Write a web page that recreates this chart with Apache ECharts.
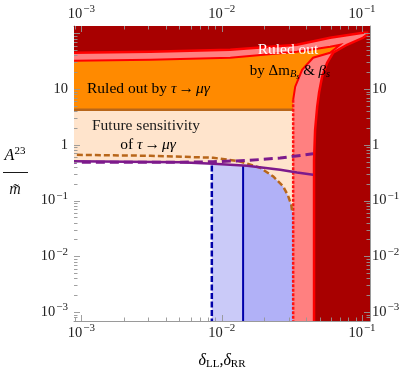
<!DOCTYPE html>
<html><head><meta charset="utf-8">
<script src="https://cdn.jsdelivr.net/npm/echarts@6/dist/echarts.min.js"></script>
<style>html,body{margin:0;padding:0;background:#fff}#c{width:407px;height:373px}</style>
</head><body><div id="c"></div>
<script>
// ---------- data ----------
const xRange = [8.85e-4, 0.114];
const yRange = [6.9e-4, 135];
const xTicks = [1e-3, 1e-2, 1e-1];
const yTicks = [1e-3, 1e-2, 1e-1, 1, 10];

// ΔmBs & βs exclusion: outer edge (dark red beyond) and inner edge (pink band between)
const outerEdgeX = [8e-4, 0.0031, 0.0115, 0.0344, 0.0592, 0.1016, 0.1087, 0.1087, 0.1016, 0.0782, 0.0622, 0.0564, 0.0519, 0.0494, 0.0479, 0.0463, 0.0455, 0.0455];
const outerEdgeY = [44.7, 46.5, 50.5, 62.2, 83.0, 102, 102, 94, 83.0, 62.2, 44.7, 29.6, 16.6, 8.57, 4.8, 1.86, 0.538, 6e-4];
const innerEdgeX = [8e-4, 0.0031, 0.0115, 0.0344, 0.0592, 0.0697, 0.0592, 0.0448, 0.0374, 0.0334, 0.0323, 0.0323];
const innerEdgeY = [32.1, 33.5, 36.4, 46.6, 57.3, 62.2, 44.7, 36.4, 22.1, 11.0, 6.41, 6e-4];
// tau -> mu gamma current bound
const tauLimit = 4.25;
// future sensitivity (brown dashed)
const futureX = [8e-4, 0.0031, 0.0087, 0.01355, 0.0188, 0.0233, 0.0274, 0.0297, 0.0313, 0.0318];
const futureY = [0.662, 0.635, 0.585, 0.502, 0.387, 0.270, 0.179, 0.122, 0.084, 0.063];
// purple curves
const purpleSolidX = [8e-4, 0.00507, 0.0087, 0.0152, 0.0261, 0.0344, 0.0448];
const purpleSolidY = [0.509, 0.486, 0.456, 0.420, 0.356, 0.318, 0.29];
const purpleDashX = [8e-4, 0.00507, 0.0087, 0.0152, 0.0261, 0.0448];
const purpleDashY = [0.486, 0.486, 0.496, 0.523, 0.577, 0.69];
// blue vertical bounds
const blueDashX = 0.0085;
const blueSolidX = 0.0142;

// ---------- helpers ----------
const L = Math.log10;
function zip(xs, ys) { return xs.map((x, i) => [x, ys[i]]); }
function interpLog(xs, ys, x) {
  const lx = L(x);
  if (lx <= L(xs[0])) return ys[0];
  for (let i = 0; i < xs.length - 1; i++) {
    const a = L(xs[i]), b = L(xs[i + 1]);
    if (lx >= a && lx <= b) {
      const t = (lx - a) / (b - a);
      return Math.pow(10, L(ys[i]) + t * (L(ys[i + 1]) - L(ys[i])));
    }
  }
  return ys[ys.length - 1];
}
function envelope(x0, x1) {
  const xs = [x0, x1].concat(futureX, purpleSolidX).filter(x => x >= x0 && x <= x1).sort((a, b) => a - b);
  return xs.map(x => [x, Math.min(interpLog(futureX, futureY, x), interpLog(purpleSolidX, purpleSolidY, x))]);
}
const yLow = 6e-4, xLow = 8e-4;
const innerVX = innerEdgeX[innerEdgeX.length - 1];
const innerCurve = zip(innerEdgeX, innerEdgeY).slice(0, innerEdgeX.length - 1);
const innerVertical = zip(innerEdgeX, innerEdgeY).slice(innerEdgeX.length - 2);

function polySeries(ptsFn, style, z) {
  return {
    type: 'custom', coordinateSystem: 'cartesian2d', clip: true, silent: true, z: z,
    data: [[xRange[0], yRange[0]]],
    renderItem: (params, api) => ({
      type: 'polygon',
      shape: { points: ptsFn().map(p => api.coord(p)) },
      style: style
    })
  };
}
function lineSeries(ptsFn, style, z) {
  return {
    type: 'custom', coordinateSystem: 'cartesian2d', clip: true, silent: true, z: z,
    data: [[xRange[0], yRange[0]]],
    renderItem: (params, api) => ({
      type: 'polyline',
      shape: { points: ptsFn().map(p => api.coord(p)) },
      style: Object.assign({ fill: null }, style)
    })
  };
}

const series = [
  polySeries(() => [[xRange[0], yRange[0]], [xRange[1], yRange[0]], [xRange[1], yRange[1]], [xRange[0], yRange[1]]], { fill: '#a80000' }, 2),
  polySeries(() => zip(outerEdgeX, outerEdgeY).concat([[xLow, yLow]]), { fill: '#ff8080' }, 3),
  polySeries(() => zip(innerEdgeX, innerEdgeY).concat([[xLow, yLow]]), { fill: '#ff8a00' }, 4),
  polySeries(() => [[xLow, tauLimit], [innerVX, tauLimit], [innerVX, yLow], [xLow, yLow]], { fill: '#ffe4cc' }, 5),
  polySeries(() => envelope(xLow, blueDashX).concat([[blueDashX, yLow], [xLow, yLow]]), { fill: '#ffffff' }, 6),
  polySeries(() => envelope(blueDashX, blueSolidX).concat([[blueSolidX, yLow], [blueDashX, yLow]]), { fill: '#cacaf8' }, 6),
  polySeries(() => envelope(blueSolidX, futureX[futureX.length - 1]).concat([[innerVX, futureY[futureY.length - 1]], [innerVX, yLow], [blueSolidX, yLow]]), { fill: '#b1b1f7' }, 6),
  lineSeries(() => [[xLow, tauLimit], [innerVX, tauLimit]], { stroke: '#b8661a', lineWidth: 2.5 }, 7),
  lineSeries(() => zip(outerEdgeX, outerEdgeY), { stroke: '#ff0000', lineWidth: 2.5 }, 8),
  lineSeries(() => innerCurve, { stroke: '#ff0000', lineWidth: 2 }, 8),
  lineSeries(() => innerVertical, { stroke: '#ff1010', lineWidth: 2.5, lineDash: [3, 1.5] }, 8),
  lineSeries(() => [[blueDashX, yLow], [blueDashX, interpLog(purpleSolidX, purpleSolidY, blueDashX)]], { stroke: '#0000aa', lineWidth: 2.5, lineDash: [6, 2.5] }, 9),
  lineSeries(() => [[blueSolidX, yLow], [blueSolidX, interpLog(purpleSolidX, purpleSolidY, blueSolidX)]], { stroke: '#0000aa', lineWidth: 2 }, 9),
  lineSeries(() => zip(futureX, futureY), { stroke: '#b8661a', lineWidth: 2.5, lineDash: [6, 3] }, 10),
  lineSeries(() => zip(purpleSolidX, purpleSolidY), { stroke: '#7d1a8c', lineWidth: 2.5 }, 11),
  lineSeries(() => zip(purpleDashX, purpleDashY), { stroke: '#7d1a8c', lineWidth: 3, lineDash: [9, 5] }, 11),
  {
    type: 'custom', coordinateSystem: 'cartesian2d', clip: false, silent: true, z: 20,
    data: [[xRange[0], yRange[0]]],
    renderItem: (params, api) => {
      const cs = params.coordSys;
      const ch = [];
      const st = { stroke: 'rgba(150,150,150,0.9)', lineWidth: 1 };
      const ln = (x1, y1, x2, y2) => ch.push({ type: 'line', shape: { x1, y1, x2, y2 }, style: st });
      for (let n = -4; n <= 2; n++) for (let k = 1; k <= 9; k++) {
        const v = k * Math.pow(10, n);
        const len = k === 1 ? 6 : 3.5;
        if (v > xRange[0] && v < xRange[1]) {
          const px = Math.round(api.coord([v, yRange[0]])[0]) + 0.5;
          ln(px, cs.y + cs.height, px, cs.y + cs.height - len);
          ln(px, cs.y, px, cs.y + len);
        }
        if (v > yRange[0] && v < yRange[1]) {
          const py = Math.round(api.coord([xRange[0], v])[1]) + 0.5;
          ln(cs.x, py, cs.x + len, py);
          ln(cs.x + cs.width, py, cs.x + cs.width - len, py);
        }
      }
      return { type: 'group', children: ch };
    }
  }
];

const serif = '"Liberation Serif", "DejaVu Serif", serif';
const rich = {
  b: { fontFamily: serif, fontSize: 14.5, lineHeight: 16, color: '#222' },
  s: { fontFamily: serif, fontSize: 11, lineHeight: 12, padding: [0, 0, 9, 1], color: '#222' }
};
function fmt(ticks) {
  return function (v) {
    const t = ticks.find(t => Math.abs(L(t) - L(v)) < 1e-6);
    if (t === undefined) return '';
    const e = Math.round(L(t));
    if (e === 0) return '{b|1}';
    if (e === 1) return '{b|10}';
    return '{b|10}{s|\u2212' + (-e) + '}';
  };
}
function logAxis(pos, range, ticks, margin) {
  return {
    type: 'log', logBase: 10, min: range[0], max: range[1], position: pos,
    axisLine: { show: true, lineStyle: { color: '#9a9a9a', width: 1 } },
    axisTick: { show: false }, splitLine: { show: false }, minorTick: { show: false },
    axisLabel: { formatter: fmt(ticks), rich: rich, margin: margin, showMinLabel: true, showMaxLabel: true }
  };
}
const txt = '#1a1a1a';
const tauRich = (fs) => ({
  n: { fontFamily: serif, fontSize: fs, lineHeight: fs + 2, color: txt },
  g: { fontFamily: serif, fontStyle: 'italic', fontSize: fs, lineHeight: fs + 2, color: txt },
  a: { fontFamily: serif, fontSize: fs, lineHeight: fs + 2, color: txt, padding: [0, 2, 0, 2] }
});

const chart = echarts.init(document.getElementById('c'), null, { renderer: 'canvas' });
chart.setOption({
  animation: false,
  backgroundColor: '#fff',
  grid: { left: 74, top: 26, width: 296, height: 295, containLabel: false },
  xAxis: [logAxis('bottom', xRange, xTicks, 4), logAxis('top', xRange, xTicks, 4)],
  yAxis: [logAxis('left', yRange, yTicks, 6), logAxis('right', yRange, yTicks, 2)],
  series: series,
  graphic: [
    { type: 'text', x: 87, y: 89, z: 100, style: { text: '{n|Ruled out by }{g|\u03c4}{a|\u2192}{g|\u03bc\u03b3}', rich: tauRich(15.5), verticalAlign: 'middle' } },
    { type: 'text', x: 92, y: 126, z: 100, style: { text: 'Future sensitivity', font: '15.5px ' + serif, fill: txt, verticalAlign: 'middle' } },
    { type: 'text', x: 148, y: 145, z: 100, style: { text: '{n|of }{g|\u03c4}{a|\u2192}{g|\u03bc\u03b3}', rich: tauRich(15.5), align: 'center', verticalAlign: 'middle' } },
    { type: 'text', x: 288, y: 50, z: 100, style: { text: 'Ruled out', font: '15.5px ' + serif, fill: '#fff', align: 'center', verticalAlign: 'middle' } },
    { type: 'text', x: 290, y: 71, z: 100, style: {
        text: '{n|by \u0394m}{i|B}{ii|s}{n| & }{g|\u03b2}{is|s}', align: 'center', verticalAlign: 'middle',
        rich: {
          n: { fontFamily: serif, fontSize: 15, lineHeight: 17, color: '#fff' },
          g: { fontFamily: serif, fontStyle: 'italic', fontSize: 15, lineHeight: 17, color: '#fff' },
          i: { fontFamily: serif, fontStyle: 'italic', fontSize: 10.5, lineHeight: 11, padding: [6, 0, 0, 0], color: '#fff' },
          ii: { fontFamily: serif, fontStyle: 'italic', fontSize: 8, lineHeight: 8, padding: [11, 0, 0, 0], color: '#fff' },
          is: { fontFamily: serif, fontStyle: 'italic', fontSize: 10.5, lineHeight: 11, padding: [6, 0, 0, 0], color: '#fff' }
        } } },
    // y axis title: A^23 / m~
    { type: 'text', x: 15, y: 156, z: 100, style: {
        text: '{a|A}{s|23}', align: 'center', verticalAlign: 'middle',
        rich: {
          a: { fontFamily: serif, fontStyle: 'italic', fontSize: 16, lineHeight: 18, color: txt },
          s: { fontFamily: serif, fontSize: 11, lineHeight: 12, padding: [0, 0, 9, 0], color: txt }
        } } },
    { type: 'line', z: 100, shape: { x1: 3, y1: 172.5, x2: 28, y2: 172.5 }, style: { stroke: txt, lineWidth: 1 } },
    { type: 'text', x: 15, y: 190, z: 100, style: { text: 'm\u0303', font: 'italic 16px ' + serif, fill: txt, align: 'center', verticalAlign: 'middle' } },
    // x axis title
    { type: 'text', x: 222, y: 361, z: 100, style: {
        text: '{d|\u03b4}{sub|LL}{n|,}{d|\u03b4}{sub|RR}', align: 'center', verticalAlign: 'middle',
        rich: {
          d: { fontFamily: serif, fontStyle: 'italic', fontSize: 16, lineHeight: 18, color: txt },
          n: { fontFamily: serif, fontSize: 16, lineHeight: 18, color: txt },
          sub: { fontFamily: serif, fontSize: 11, lineHeight: 12, padding: [7, 0, 0, 0], color: txt }
        } } }
  ]
});
</script></body></html>
